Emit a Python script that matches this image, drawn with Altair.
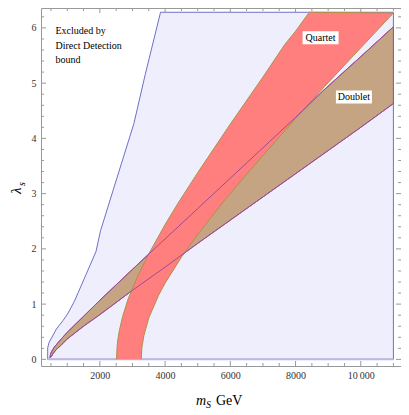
import altair as alt
import pandas as pd

# ---- data ----
# Direct-detection excluded region, left boundary (m_S [GeV], lambda_s)
dd_m = [400, 400, 445, 668, 866, 1008, 1218, 1579, 1880, 2021, 2532, 3044, 3392, 3860, 11000, 11000]
dd_lam = [0.0, 0.21, 0.31, 0.55, 0.70, 0.82, 1.05, 1.54, 1.95, 2.33, 3.30, 4.27, 5.16, 6.283, 6.283, 0.0]

# Quartet band: left boundary (bottom->top) and right boundary (top->bottom)
q_left_m = [2510, 2530, 2560, 2600, 2700, 2870, 3000, 3170, 3500, 4000, 4400, 5000, 6000, 7000, 7670, 8000, 8420]
q_left_lam = [0.0, 0.25, 0.39, 0.53, 0.78, 1.10, 1.28, 1.52, 1.91, 2.44, 2.83, 3.38, 4.26, 5.11, 5.70, 5.94, 6.283]
q_right_m = [11000, 10000, 8890, 8000, 7000, 6500, 5780, 5000, 4500, 4000, 3800, 3500, 3350, 3300, 3285, 3270]
q_right_lam = [6.27, 5.64, 4.94, 4.36, 3.69, 3.35, 2.85, 2.26, 1.85, 1.38, 1.16, 0.75, 0.43, 0.26, 0.19, 0.0]

# Doublet band: upper boundary (left->right) and lower boundary (right->left)
d_up_m = [470, 490, 520, 600, 800, 1000, 1500, 2000, 3000, 3525, 4000, 5000, 6000, 7000, 8000, 8840, 10000, 11000]
d_up_lam = [0.03, 0.10, 0.14, 0.22, 0.36, 0.49, 0.78, 1.07, 1.63, 1.92, 2.18, 2.73, 3.28, 3.83, 4.38, 4.86, 5.48, 6.02]
d_lo_m = [11000, 10000, 9000, 8000, 7000, 6000, 5000, 4000, 3000, 2000, 1500, 1000, 800, 650, 560, 520, 470]
d_lo_lam = [4.63, 4.20, 3.78, 3.36, 2.94, 2.52, 2.10, 1.67, 1.25, 0.81, 0.60, 0.37, 0.25, 0.17, 0.10, 0.06, 0.03]

# axis ticks
x_major = [2000, 4000, 6000, 8000, 10000]
x_minor = [500, 1000, 1500, 2500, 3000, 3500, 4500, 5000, 5500, 6500, 7000, 7500,
           8500, 9000, 9500, 10500, 11000]
y_major = [0, 1, 2, 3, 4, 5, 6]
y_minor = [round(v * 0.2, 1) for v in range(0, 32) if v % 5 != 0]

# annotations
note_lines = ["Excluded by", "Direct Detection", "bound"]
note_lam = [5.95, 5.68, 5.42]
note_m = 640
band_labels = ["Quartet", "Doublet"]
band_label_m = [8767, 9789]
band_label_lam = [5.82, 4.75]

W, H = 360, 358
xs = alt.Scale(domain=[195, 11233], nice=False, zero=False)
ys = alt.Scale(domain=[-0.12, 6.36], nice=False, zero=False)
FONT = "Liberation Serif"

x_axis = alt.Axis(values=x_major, ticks=False, domain=False, grid=False, title=None,
                  labelFont=FONT, labelFontSize=10, labelColor="#333333", labelPadding=4,
                  labelExpr="datum.value == 10000 ? '10\u2009000' : format(datum.value, 'd')")
y_axis = alt.Axis(values=y_major, ticks=False, domain=False, grid=False, title=None,
                  labelFont=FONT, labelFontSize=10, labelColor="#333333", labelPadding=5)

X = alt.X("m:Q", scale=xs, axis=x_axis)
Y = alt.Y("lam:Q", scale=ys, axis=y_axis)


def poly(ms, lams):
    return pd.DataFrame({"m": ms, "lam": lams, "o": list(range(len(ms)))})


def enc(ch):
    return ch.encode(x=X, y=Y, order="o:Q")


dd_df = poly(dd_m + [dd_m[0]], dd_lam + [dd_lam[0]])
q_df = poly(q_left_m + q_right_m, q_left_lam + q_right_lam)
d_df = poly(d_up_m + d_lo_m, d_up_lam + d_lo_lam)
d_up_df = poly(d_up_m, d_up_lam)
d_lo_df = poly(d_lo_m, d_lo_lam)

dd_layer = enc(alt.Chart(dd_df).mark_line(fill="#EEEEFC", stroke="#7070C8", strokeWidth=1, clip=True))
dd_bottom = enc(alt.Chart(pd.DataFrame({"m": [400, 11000], "lam": [0, 0], "o": [0, 1]})).mark_line(
    stroke="#B8B8E6", strokeWidth=2, clip=True))
d_layer = enc(alt.Chart(d_df).mark_line(fill="#C4A483", stroke="#A0508C", strokeWidth=1, clip=True))
q_layer = enc(alt.Chart(q_df).mark_line(fill="#FF7F7F", stroke="#B09048", strokeWidth=1, clip=True))
d_up_line = enc(alt.Chart(d_up_df).mark_line(stroke="#9C4C90", strokeWidth=1, clip=True))
d_lo_line = enc(alt.Chart(d_lo_df).mark_line(stroke="#9C4C90", strokeWidth=1, clip=True))

TICK = "#999999"
ticks = []
for size, vals in [(5, x_major), (3, x_minor)]:
    sub = pd.DataFrame({"m": vals})
    ticks.append(alt.Chart(sub).mark_rule(color=TICK, strokeWidth=1).encode(
        x=X, y=alt.value(H), y2=alt.value(H - size)))
    ticks.append(alt.Chart(sub).mark_rule(color=TICK, strokeWidth=1).encode(
        x=X, y=alt.value(0), y2=alt.value(size)))
for size, vals in [(5, y_major), (3, y_minor)]:
    sub = pd.DataFrame({"lam": vals})
    ticks.append(alt.Chart(sub).mark_rule(color=TICK, strokeWidth=1).encode(
        y=Y, x=alt.value(0), x2=alt.value(size)))
    ticks.append(alt.Chart(sub).mark_rule(color=TICK, strokeWidth=1).encode(
        y=Y, x=alt.value(W), x2=alt.value(W - size)))

note_df = pd.DataFrame({"t": note_lines, "m": [note_m] * 3, "lam": note_lam})
notes = alt.Chart(note_df).mark_text(font=FONT, fontSize=10, align="left", baseline="middle",
                                     color="black").encode(x=X, y=Y, text="t:N")

bl_df = pd.DataFrame({"t": band_labels, "m": band_label_m, "lam": band_label_lam})
bl_box = alt.Chart(bl_df).mark_rect(color="white", width=36, height=13).encode(x=X, y=Y)
bl_text = alt.Chart(bl_df).mark_text(font=FONT, fontSize=10, align="center", baseline="middle",
                                     color="black").encode(x=X, y=Y, text="t:N")


# axis titles (composed so that italic / subscripts can be shown)
def label(txt, x, y, size, style="normal", angle=0):
    return alt.Chart(pd.DataFrame({"t": [txt]})).mark_text(
        font=FONT, fontSize=size, fontStyle=style, align="left", baseline="alphabetic",
        angle=angle, color="black").encode(x=alt.value(x), y=alt.value(y), text="t:N")


titles = [
    label("m", 155, 397, 14, "italic"),
    label("S", 165, 400, 10, "italic"),
    label("GeV", 175, 397, 14),
    label("λ", -20, 186, 15, "italic", 270),
    label("s", -16, 178, 10, "italic", 270),
]

chart = alt.layer(dd_layer, dd_bottom, d_layer, q_layer, d_up_line, d_lo_line,
                  *ticks, notes, bl_box, bl_text, *titles).properties(
    width=W, height=H, autosize="none",
    padding={"left": 33, "top": 0, "right": 0, "bottom": 48},
).configure_view(stroke=TICK, strokeWidth=1)

chart.save("out.html", embed_options={"renderer": "svg", "actions": False})
